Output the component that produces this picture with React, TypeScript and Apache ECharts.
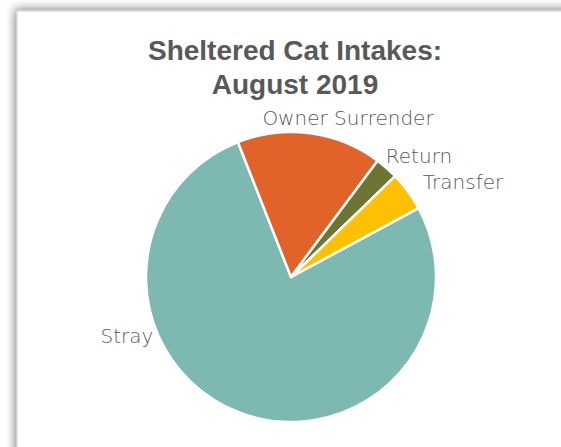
import React, { useEffect, useRef } from "react";
import * as echarts from "echarts";

const categories = ["Stray", "Owner Surrender", "Return", "Transfer"];
const values = [300, 63, 10, 17];
const colors = ["#7db8b1", "#e2632a", "#6e7431", "#fdc002"];
const titleText = "Sheltered Cat Intakes:\nAugust 2019";

export default function App() {
  const ref = useRef<HTMLDivElement>(null);
  useEffect(() => {
    if (!ref.current) return;
    const chart = echarts.init(ref.current, null, { renderer: "svg" });
    const cx = 291;
    const cy = 277;
    const labelOffsets: Record<string, [number, number]> = {
      Stray: [-164, 59],
      "Owner Surrender": [57, -159],
      Return: [128, -121],
      Transfer: [172, -95],
    };
    chart.setOption({
      animation: false,
      backgroundColor: "#ffffff",
      graphic: [
        {
          type: "rect",
          z: 0,
          silent: true,
          shape: { x: 17, y: 11, width: 600, height: 500 },
          style: {
            fill: "#ffffff",
            stroke: "#d0d0d0",
            lineWidth: 1,
            shadowBlur: 10,
            shadowColor: "rgba(0,0,0,0.45)",
            shadowOffsetX: -2,
            shadowOffsetY: -2,
          },
        },
      ],
      title: {
        text: titleText,
        left: 290,
        top: 28,
        textAlign: "center",
        textStyle: {
          fontFamily: "Liberation Sans",
          fontWeight: "bold",
          fontSize: 28,
          lineHeight: 34,
          color: "#595959",
        },
      },
      series: [
        {
          type: "pie",
          center: [cx, cy],
          radius: [0, 145],
          startAngle: 28.4,
          clockwise: true,
          avoidLabelOverlap: false,
          itemStyle: { borderColor: "#ffffff", borderWidth: 2.5 },
          label: {
            show: true,
            position: "outside",
            formatter: "{b}",
            fontFamily: "DejaVu Sans",
            fontWeight: 200,
            fontSize: 20,
            color: "#595959",
          },
          labelLine: { show: false },
          labelLayout: (p: any) => {
            const off = labelOffsets[categories[p.dataIndex]];
            return {
              x: cx + off[0],
              y: cy + off[1],
              align: "center",
              verticalAlign: "middle",
            };
          },
          data: categories.map((c, i) => ({
            name: c,
            value: values[i],
            itemStyle: { color: colors[i] },
          })),
        },
      ],
    });
    return () => chart.dispose();
  }, []);
  return (
    <div
      ref={ref}
      style={{ position: "fixed", left: 0, top: 0, width: 561, height: 447 }}
    />
  );
}
